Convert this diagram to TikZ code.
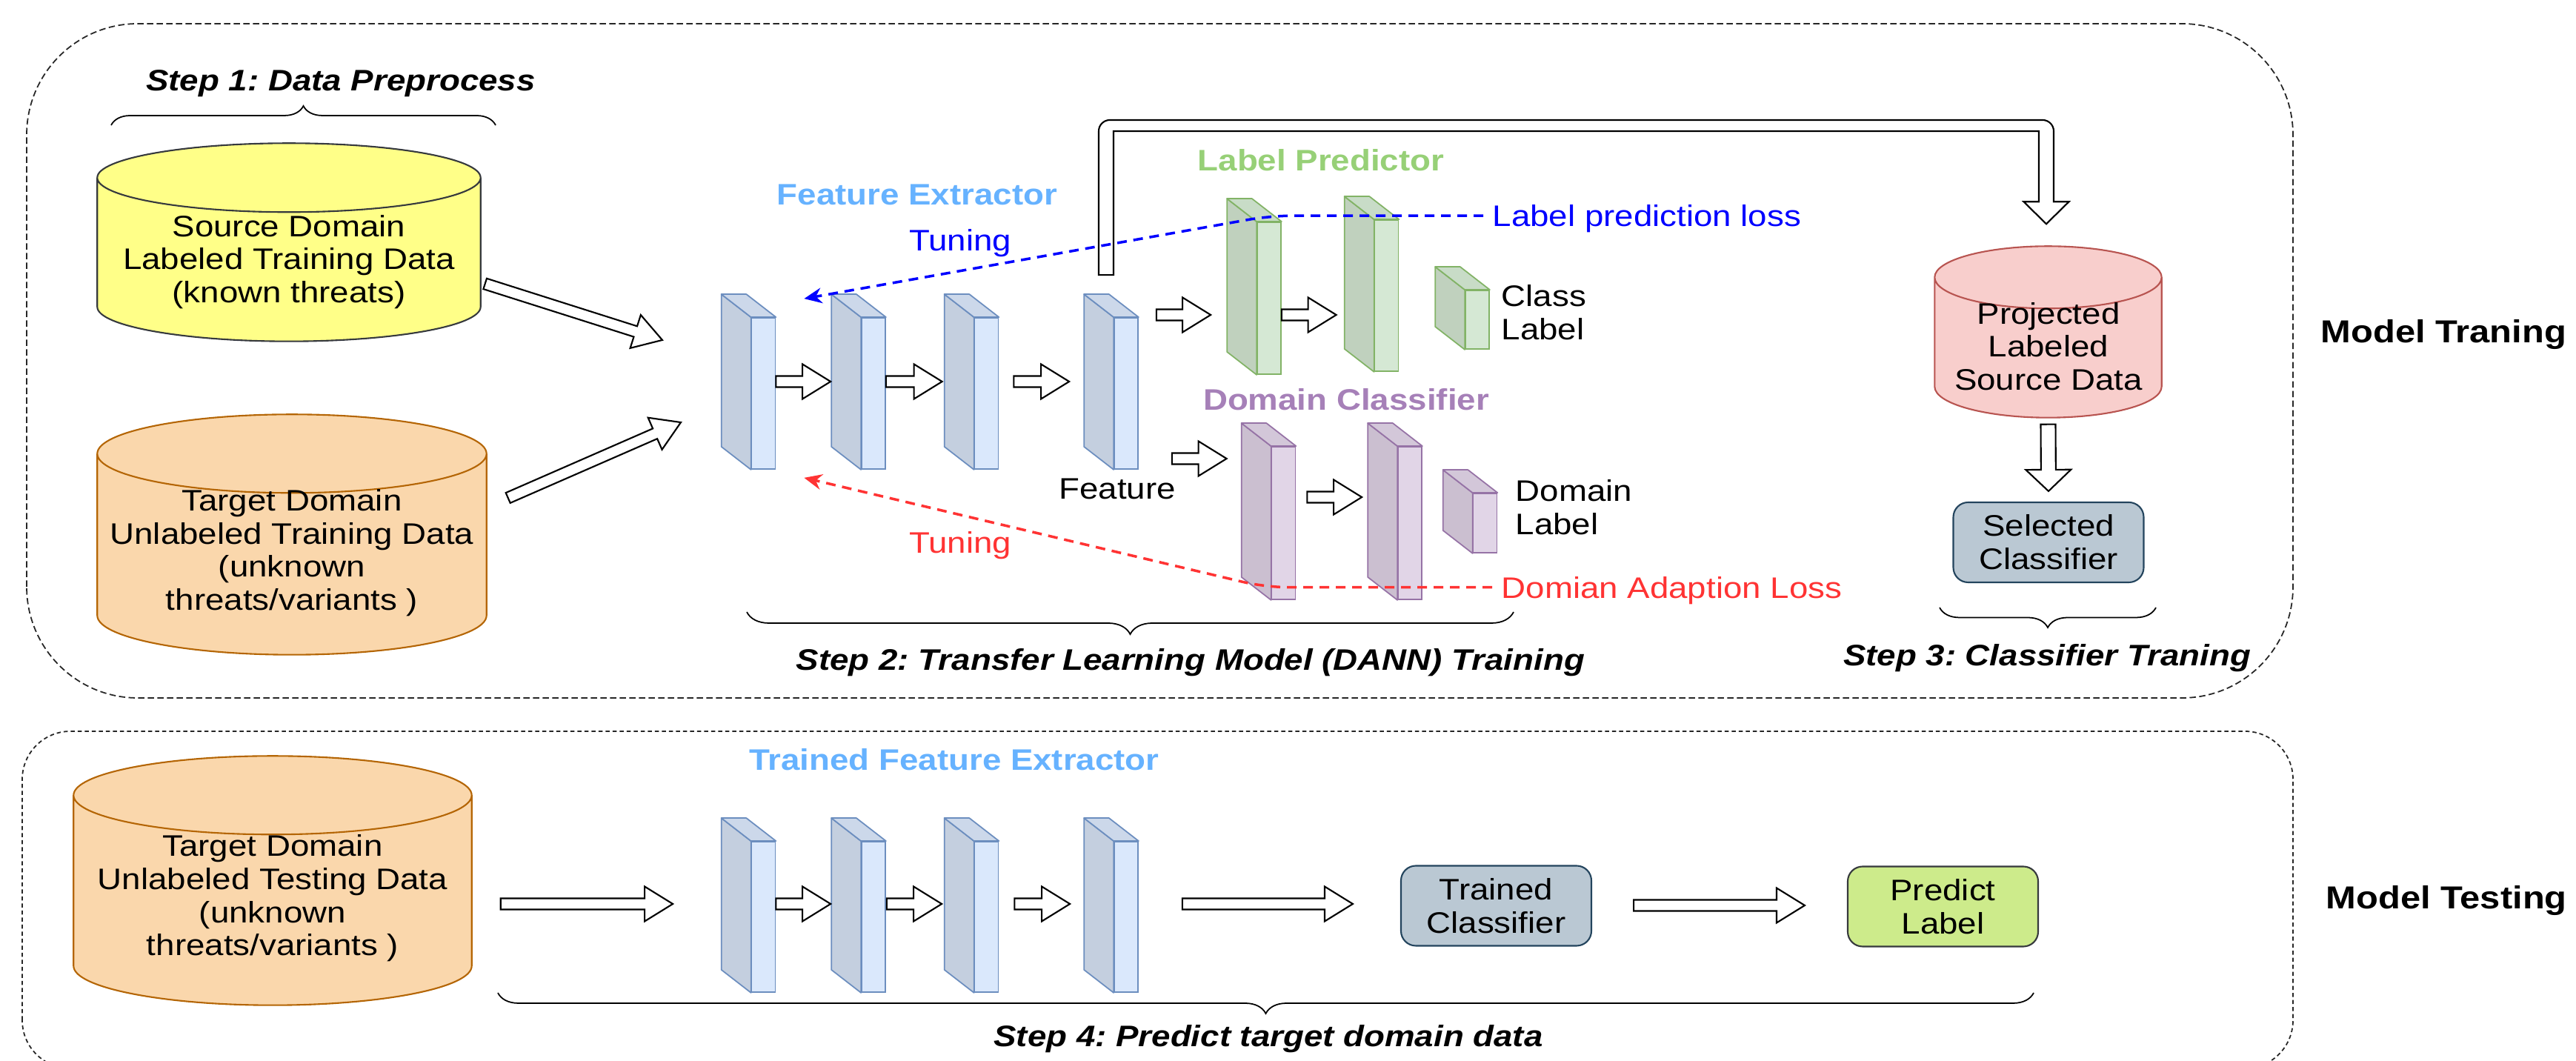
\documentclass[tikz,border=0pt]{standalone}
\usepackage{fontspec}
\setmainfont{Liberation Sans}[FakeStretch=1.14]
\usetikzlibrary{calc,arrows.meta,decorations.pathreplacing}

\definecolor{srcfill}{HTML}{FFFF88}
\definecolor{srcline}{HTML}{36393D}
\definecolor{tgtfill}{HTML}{FAD7AC}
\definecolor{tgtline}{HTML}{B46504}
\definecolor{projfill}{HTML}{F8CECC}
\definecolor{projline}{HTML}{B85450}
\definecolor{clsfill}{HTML}{BAC8D3}
\definecolor{clsline}{HTML}{23445D}
\definecolor{predfill}{HTML}{CDEB8B}
\definecolor{predline}{HTML}{36393D}
\definecolor{bluefront}{HTML}{DAE8FC}
\definecolor{blueside}{HTML}{C4CFDF}
\definecolor{bluetop}{HTML}{CCD8EA}
\definecolor{blueline}{HTML}{6C8EBF}
\definecolor{greenfront}{HTML}{D5E8D4}
\definecolor{greenside}{HTML}{C0D1BE}
\definecolor{greentop}{HTML}{C8DCC7}
\definecolor{greenline}{HTML}{82B366}
\definecolor{purplefront}{HTML}{E1D5E7}
\definecolor{purpleside}{HTML}{CBBFD0}
\definecolor{purpletop}{HTML}{D3C7D9}
\definecolor{purpleline}{HTML}{9673A6}
\definecolor{fextext}{HTML}{66B2FF}
\definecolor{lptext}{HTML}{97D077}
\definecolor{dctext}{HTML}{A680B8}
\definecolor{tuneblue}{HTML}{0000FF}
\definecolor{tunered}{HTML}{FF3333}

\tikzset{
  txt/.style={font=\fontsize{11.4}{12.7}\selectfont\frenchspacing, align=center, inner sep=0pt},
  steplbl/.style={txt, font=\fontsize{11.4}{12.7}\selectfont\frenchspacing\bfseries\itshape},
  partlbl/.style={txt, font=\fontsize{11.4}{12.7}\selectfont\frenchspacing\bfseries},
  modellbl/.style={txt, font=\fontsize{12.2}{14}\selectfont\bfseries},
  dashframe/.style={draw=black!85, line width=0.5pt, dash pattern=on 0.85mm off 0.45mm},
  cylbox/.style={rectangle, inner sep=0pt},
  slabface/.style={rectangle, inner sep=0pt, minimum width=0.32cm, line width=0.5pt},
  clsbox/.style={txt, draw=clsline, fill=clsfill, rounded corners=2mm, minimum width=2.57cm, minimum height=1.08cm, line width=0.6pt},
  fatline/.style={draw=black, fill=white, line width=0.6pt, line join=miter},
  vfat/.code={\def\fatS{0.10cm}\def\fatW{0.305cm}\def\fatL{0.29cm}},
  brc/.style={decorate, line width=0.5pt},
  tuning/.style={line width=1pt, dash pattern=on 1.3mm off 0.9mm, rounded corners=3mm, -{Stealth[length=2.4mm,width=2.1mm,inset=0.8mm]}}
}

% hollow block arrow between two points
\newcommand\fatS{0.075cm}
\newcommand\fatW{0.235cm}
\newcommand\fatL{0.38cm}
\newcommand{\fatarrow}[3][]{%
  \path let \p1=#2, \p2=#3, \n1={atan2(\y2-\y1,\x2-\x1)}, \n2={veclen(\x2-\x1,\y2-\y1)} in
    \pgfextra{\pgfmathsetmacro\fatA{\n1}\pgfmathsetmacro\fatD{\n2}\xdef\fatang{\fatA}\xdef\fatlen{\fatD pt}};
  \draw[fatline,#1,shift={#2},rotate=\fatang]
    (0,-\fatS) -- (\fatlen-\fatL,-\fatS) -- (\fatlen-\fatL,-\fatW) -- (\fatlen,0)
    -- (\fatlen-\fatL,\fatW) -- (\fatlen-\fatL,\fatS) -- (0,\fatS) -- cycle;
}

% database cylinder round a named box
\newcommand{\drawcyl}[4]{%
  \draw[fill=#3, draw=#4, line width=0.6pt] let \p1=(#1.north west), \p2=(#1.south east) in
    (\x1,\y1-#2) -- (\x1,\y2+#2) arc[start angle=180, end angle=360, x radius={(\x2-\x1)/2}, y radius=#2]
    -- (\x2,\y1-#2) arc[start angle=0, end angle=180, x radius={(\x2-\x1)/2}, y radius=#2] -- cycle
    (\x1,\y1-#2) arc[start angle=180, end angle=360, x radius={(\x2-\x1)/2}, y radius=#2];
}

% 3d layer slab: name, x, y, height, colour set
\newcommand{\slab}[5]{%
  \node[slabface, draw=#5line, fill=#5front, minimum height=#4cm] (#1) at (#2,#3) {};
  \draw[draw=#5line, fill=#5side, line width=0.5pt, line join=round] (#1.north west) -- (#1.south west)
    -- ++(-0.40,0.31) -- ($(#1.north west)+(-0.40,0.31)$) -- cycle;
  \draw[draw=#5line, fill=#5top, line width=0.5pt, line join=round] (#1.north west) -- (#1.north east)
    -- ++(-0.40,0.31) -- ($(#1.north west)+(-0.40,0.31)$) -- cycle;
}

\begin{document}
\begin{tikzpicture}
  \useasboundingbox (0,0) rectangle (34.77,14.32);

  % Frames
  \draw[dashframe, rounded corners=1.5cm] (0.36,4.90) rectangle (30.95,14.00);
  \draw[dashframe, dash pattern=on 0.55mm off 0.4mm, rounded corners=0.65cm] (0.30,-0.10) rectangle (30.95,4.45);
  \node[modellbl, anchor=base west] (mtrain) at (31.32,9.69) {Model Traning};
  \node[modellbl, anchor=base west] (mtest) at (31.39,2.05) {Model Testing};

  % Step 1: data
  \node[steplbl, anchor=base] (step1) at (4.60,13.09) {Step 1: Data Preprocess};
  \draw[brc, decoration={brace, amplitude=2.6mm}] (1.50,12.63) -- (6.69,12.63);
  \node[cylbox, minimum width=5.16cm, minimum height=2.66cm] (src) at (3.90,11.05) {};
  \drawcyl{src}{0.465cm}{srcfill}{srcline}
  \node[txt] (srctxt) at (3.90,10.785) {Source Domain\\Labeled Training Data\\(known threats)};
  \node[cylbox, minimum width=5.24cm, minimum height=3.23cm] (tgt) at (3.94,7.105) {};
  \drawcyl{tgt}{0.53cm}{tgtfill}{tgtline}
  \node[txt] (tgttxt) at (3.94,6.86) {Target Domain\\Unlabeled Training Data\\(unknown\\threats/variants )};

  % Step 2: feature extractor
  \slab{l1}{10.305}{9.01}{2.04}{blue}
  \slab{l2}{11.79}{9.01}{2.04}{blue}
  \slab{l3}{13.315}{9.01}{2.04}{blue}
  \slab{l4}{15.20}{9.01}{2.04}{blue}
  \node[partlbl, fextext, anchor=base] (fextitle) at (12.38,11.55) {Feature Extractor};
  \node[txt, anchor=base] (featlbl) at (15.08,7.58) {Feature};

  % label predictor
  \slab{g1}{17.13}{10.295}{2.05}{green}
  \slab{g2}{18.715}{10.33}{2.04}{green}
  \slab{g3}{19.94}{10.005}{0.79}{green}
  \node[partlbl, lptext, anchor=base] (lptitle) at (17.83,12.01) {Label Predictor};
  \node[txt, align=left, anchor=west] (clslbl) at (20.26,10.10) {Class\\Label};

  % domain classifier
  \slab{p1}{17.325}{7.26}{2.06}{purple}
  \slab{p2}{19.03}{7.26}{2.06}{purple}
  \slab{p3}{20.045}{7.26}{0.80}{purple}
  \node[partlbl, dctext, anchor=base] (dctitle) at (18.17,8.78) {Domain Classifier};
  \node[txt, align=left, anchor=west] (domlbl) at (20.45,7.47) {Domain\\Label};

  % data into the network
  \fatarrow{($(src.east)+(0.06,-0.56)$)}{($(l1.west)+(-1.195,0.72)$)}
  \fatarrow{($(tgt.east)+(0.29,0.495)$)}{($(l1.west)+(-0.945,-0.39)$)}
  \fatarrow{($(l1.east)+(0,0.16)$)}{($(l2.west)+(-0.41,0.16)$)}
  \fatarrow{($(l2.east)+(0,0.16)$)}{($(l3.west)+(-0.43,0.16)$)}
  \fatarrow{($(l3.east)+(0.20,0.16)$)}{($(l4.west)+(-0.60,0.16)$)}
  \fatarrow{($(l4.east)+(0.24,1.06)$)}{($(g1.west)+(-0.62,-0.225)$)}
  \fatarrow{($(g1.east)+(0,-0.225)$)}{($(g2.west)+(-0.51,-0.26)$)}
  \fatarrow{($(l4.east)+(0.45,-0.88)$)}{($(p1.west)+(-0.60,0.87)$)}
  \fatarrow{($(p1.east)+(0.15,0.35)$)}{($(p2.west)+(-0.48,0.35)$)}

  % Step 3: classifier
  \node[cylbox, minimum width=3.05cm, minimum height=2.30cm] (proj) at (27.645,9.84) {};
  \drawcyl{proj}{0.42cm}{projfill}{projline}
  \node[txt] (projtxt) at (27.65,9.645) {Projected\\Labeled\\Source Data};
  \node[clsbox] (sel) at (27.65,7.00) {Selected\\Classifier};
  \fatarrow[vfat]{($(proj.south)+(0,-0.09)$)}{($(sel.north)+(0,0.14)$)}

  % feature to projected data
  \coordinate (pipeA) at ($(l4.north)+(-0.27,0.57)$);
  \coordinate (pipeB) at ($(proj.north)+(-0.025,0.30)$);
  \draw[fatline] let \p1=(pipeA), \p2=(pipeB) in
    (\x1-0.10cm,\y1) [rounded corners=1.5mm] -- (\x1-0.10cm,12.70cm) -- (\x2+0.10cm,12.70cm)
    [sharp corners] -- (\x2+0.10cm,\y2+0.30cm) -- (\x2+0.305cm,\y2+0.30cm) -- (\x2,\y2)
    -- (\x2-0.305cm,\y2+0.30cm) -- (\x2-0.10cm,\y2+0.30cm) -- (\x2-0.10cm,12.55cm)
    -- (\x1+0.10cm,12.55cm) -- (\x1+0.10cm,\y1) -- cycle;

  % Tuning losses
  \node[txt, tuneblue, anchor=base west, inner xsep=1.2mm] (lploss) at (20.02,11.26) {Label prediction loss};
  \node[txt, tunered, anchor=base west, inner xsep=1.2mm] (daloss) at (20.14,6.24) {Domian Adaption Loss};
  \node[txt, tuneblue, anchor=base] (tuneb) at (12.96,10.93) {Tuning};
  \node[txt, tunered, anchor=base] (tuner) at (12.96,6.85) {Tuning};
  \draw[tuning, tuneblue] ($(lploss.west)+(0,0.045)$) -- ++(-2.87,0) -- ($(l1.north east)+(0.38,0.25)$);
  \draw[tuning, tunered] ($(daloss.west)+(0,0.05)$) -- ++(-3.06,0) -- ($(l1.south east)+(0.38,-0.11)$);

  % Step labels
  \draw[brc, decoration={brace, amplitude=3mm}] (20.43,6.06) -- (10.08,6.06);
  \node[steplbl, anchor=base] (step2) at (16.07,5.27) {Step 2: Transfer Learning Model (DANN) Training};
  \draw[brc, decoration={brace, amplitude=2.7mm}] (29.10,6.12) -- (26.18,6.12);
  \node[steplbl, anchor=base] (step3) at (27.63,5.33) {Step 3: Classifier Traning};

  % Step 4: testing
  \node[cylbox, minimum width=5.36cm, minimum height=3.35cm] (test) at (3.68,2.435) {};
  \drawcyl{test}{0.53cm}{tgtfill}{tgtline}
  \node[txt] (testtxt) at (3.68,2.195) {Target Domain\\Unlabeled Testing Data\\(unknown\\threats/variants )};
  \slab{b1}{10.305}{1.945}{2.03}{blue}
  \slab{b2}{11.79}{1.945}{2.03}{blue}
  \slab{b3}{13.315}{1.945}{2.03}{blue}
  \slab{b4}{15.20}{1.945}{2.03}{blue}
  \node[partlbl, fextext, anchor=base] (tfextitle) at (12.88,3.92) {Trained Feature Extractor};
  \node[clsbox] (trained) at (20.195,2.095) {Trained\\Classifier};
  \node[clsbox, fill=predfill, draw=predline] (pred) at (26.225,2.085) {Predict\\Label};
  \fatarrow{($(test.east)+(0.39,-0.315)$)}{($(b1.west)+(-1.055,0.175)$)}
  \fatarrow{($(b1.east)+(0,0.175)$)}{($(b2.west)+(-0.41,0.175)$)}
  \fatarrow{($(b2.east)+(0.01,0.175)$)}{($(b3.west)+(-0.435,0.175)$)}
  \fatarrow{($(b3.east)+(0.21,0.175)$)}{($(b4.west)+(-0.59,0.175)$)}
  \fatarrow{($(b4.east)+(0.59,0.175)$)}{($(trained.west)+(-0.64,0.025)$)}
  \fatarrow{($(trained.east)+(0.56,0.005)$)}{($(pred.west)+(-0.57,0.015)$)}
  \draw[brc, decoration={brace, amplitude=2.8mm}] (27.45,0.92) -- (6.72,0.92);
  \node[steplbl, anchor=base] (step4) at (17.12,0.19) {Step 4: Predict target domain data};
\end{tikzpicture}
\end{document}
